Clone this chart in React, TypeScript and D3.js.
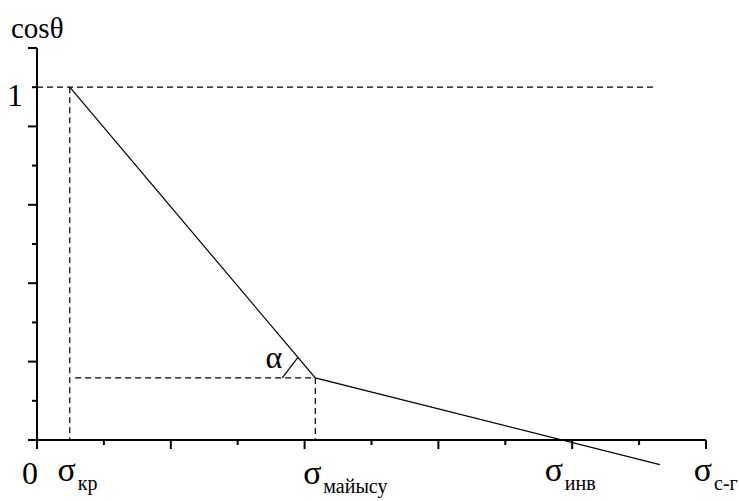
import { useEffect, useRef } from 'react'
import * as d3 from 'd3'

// curve of cos(theta) vs sigma, in axis units (x ticks 0..10, y where 1 = cos 1)
const curveX = [0.49, 4.16, 9.31]
const curveY = [1, 0.176, -0.07]

const xTicks = d3.range(0, 11)
const yTicks = d3.range(0, 11).map((k) => k / 9)

const sigmaLabels = ['кр', 'майысу', 'инв', 'с-г']
const sigmaPos = [0.49, 4.16, 7.77, 10]

const refLineEnd = 9.24
const kinkDashStart = 0.57

export default function App() {
	const ref = useRef<SVGSVGElement>(null)
	const width = 739
	const height = 501

	useEffect(() => {
		const svg = d3.select(ref.current)
		svg.selectAll('*').remove()

		const x = d3.scaleLinear().domain([0, 10]).range([37, 706])
		const y = d3.scaleLinear().domain([0, 10 / 9]).range([440, 48])
		const font = "'Liberation Serif', 'Times New Roman', serif"

		const pts = curveX.map((v, i) => ({ x: v, y: curveY[i] }))
		const kink = pts[1]

		// axes
		svg
			.append('line')
			.attr('x1', 28)
			.attr('x2', x(10))
			.attr('y1', y(0))
			.attr('y2', y(0))
			.attr('stroke', '#000')
			.attr('stroke-width', 2)
		svg
			.append('line')
			.attr('x1', x(0))
			.attr('x2', x(0))
			.attr('y1', y(0) + 8)
			.attr('y2', y(10 / 9))
			.attr('stroke', '#000')
			.attr('stroke-width', 2)

		svg
			.append('g')
			.selectAll('line')
			.data(xTicks)
			.join('line')
			.attr('x1', (d) => x(d))
			.attr('x2', (d) => x(d))
			.attr('y1', y(0))
			.attr('y2', (d) => y(0) + (d % 2 === 0 ? 9 : 5))
			.attr('stroke', '#000')
			.attr('stroke-width', 2)

		svg
			.append('g')
			.selectAll('line')
			.data(yTicks)
			.join('line')
			.attr('x1', x(0))
			.attr('x2', (d, i) => x(0) - (i % 2 === 0 ? 9 : 5))
			.attr('y1', (d) => y(d))
			.attr('y2', (d) => y(d))
			.attr('stroke', '#000')
			.attr('stroke-width', 2)

		// dashed guides
		const dashed = [
			[0, 1, refLineEnd, 1],
			[curveX[0], 1, curveX[0], 0],
			[kinkDashStart, kink.y, kink.x, kink.y],
			[kink.x, kink.y, kink.x, 0],
		]
		svg
			.append('g')
			.selectAll('line')
			.data(dashed)
			.join('line')
			.attr('x1', (d) => x(d[0]))
			.attr('y1', (d) => y(d[1]))
			.attr('x2', (d) => x(d[2]))
			.attr('y2', (d) => y(d[3]))
			.attr('stroke', '#000')
			.attr('stroke-width', 1.2)
			.attr('stroke-dasharray', '6,4')

		// main curve
		const line = d3
			.line<{ x: number; y: number }>()
			.x((d) => x(d.x))
			.y((d) => y(d.y))
		svg
			.append('path')
			.datum(pts)
			.attr('d', line)
			.attr('fill', 'none')
			.attr('stroke', '#000')
			.attr('stroke-width', 1.2)

		// angle marker
		const kx = x(kink.x)
		const ky = y(kink.y)
		const ang = Math.atan2(y(pts[0].y) - ky, x(pts[0].x) - kx)
		svg
			.append('line')
			.attr('x1', kx - 33)
			.attr('y1', ky)
			.attr('x2', kx + 27 * Math.cos(ang))
			.attr('y2', ky + 27 * Math.sin(ang))
			.attr('stroke', '#000')
			.attr('stroke-width', 1.2)
		svg
			.append('text')
			.attr('x', kx - 33)
			.attr('y', ky - 10)
			.attr('text-anchor', 'end')
			.style('font-family', font)
			.attr('font-size', 32)
			.text('α')

		// axis texts
		svg
			.append('text')
			.attr('x', 11)
			.attr('y', 38)
			.style('font-family', font)
			.attr('font-size', 29)
			.text('cosθ')
		svg
			.append('text')
			.attr('x', 23)
			.attr('y', y(1) + 19)
			.attr('text-anchor', 'end')
			.style('font-family', font)
			.attr('font-size', 32)
			.text('1')
		svg
			.append('text')
			.attr('x', 30)
			.attr('y', 484)
			.attr('text-anchor', 'middle')
			.style('font-family', font)
			.attr('font-size', 32)
			.text('0')

		const lab = svg
			.append('g')
			.selectAll('g')
			.data(sigmaLabels)
			.join('g')
			.attr('transform', (d, i) => `translate(${x(sigmaPos[i]) - 3},${i === 1 ? 3 : 0})`)
		lab
			.append('text')
			.attr('x', 0)
			.attr('y', 481)
			.attr('text-anchor', 'middle')
			.style('font-family', font)
			.attr('font-size', 34)
			.text('σ')
		lab
			.append('text')
			.attr('x', 11)
			.attr('y', 490)
			.style('font-family', font)
			.attr('font-size', 20)
			.text((d) => d)
	}, [])

	return (
		<div style={{ position: 'fixed', left: 0, top: 0 }}>
			<svg ref={ref} width={width} height={height} style={{ display: 'block', background: '#fff' }}></svg>
		</div>
	)
}
